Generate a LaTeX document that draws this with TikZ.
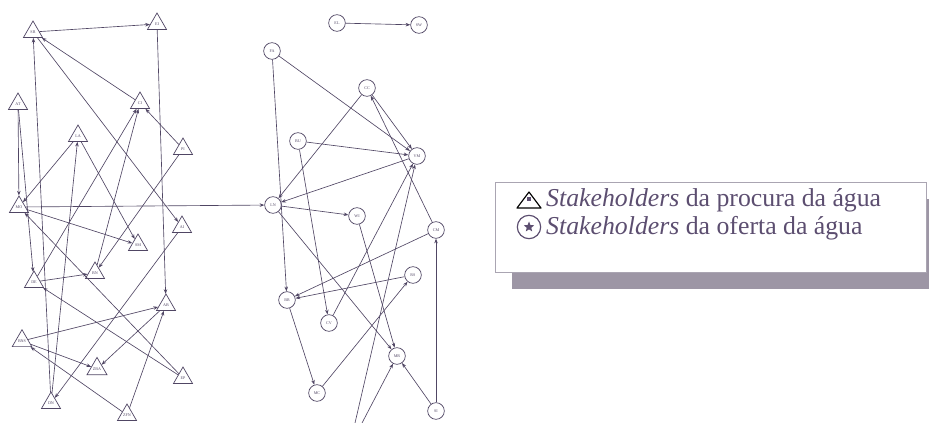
\documentclass[tikz,border=0pt]{standalone}
\usepackage{fontspec}
\setmainfont{Liberation Serif}
\usetikzlibrary{shapes.geometric, arrows.meta, shadows}

\definecolor{ink}{RGB}{80,70,100}
\definecolor{legendtext}{RGB}{92,78,112}
\definecolor{shadowgray}{RGB}{157,150,165}
\definecolor{boxline}{RGB}{170,165,178}

\begin{document}
\begin{tikzpicture}[
  x=0.3mm, y=-0.3mm,
  >={Stealth[length=4pt, width=3pt]},
  demand/.style={
    draw=ink, regular polygon, regular polygon sides=3,
    minimum size=6.6mm, inner sep=0pt, line width=0.6pt,
    font=\fontsize{3.5}{4}\selectfont, text=ink
  },
  supply/.style={
    draw=ink, circle, minimum size=5mm, inner sep=0pt,
    line width=0.6pt, font=\fontsize{3.5}{4}\selectfont, text=ink
  },
  arrow/.style={->, draw=ink, line width=0.55pt},
  legendbox/.style={
    draw=boxline, fill=white, line width=0.8pt,
    minimum width=129.3mm, minimum height=27mm,
    drop shadow={shadow xshift=5.1mm, shadow yshift=-5.1mm,
                 fill=shadowgray, opacity=1}
  },
  legendtext/.style={anchor=west, inner sep=0pt, text=legendtext,
    font=\fontsize{22}{24}\selectfont}
]
\useasboundingbox (0,0) rectangle (929,423);

% --- Demand side (triangles) ---
\node[demand] (sr)  at (33,32)   {SR};
\node[demand] (ei)  at (157,24)  {EI};
\node[demand] (ats) at (18,104)  {AT};
\node[demand] (ci)  at (140,103) {CI};
\node[demand] (la)  at (78,136)  {LA};
\node[demand] (pi)  at (183,149) {PI};
\node[demand] (mo)  at (19,207)  {MO};
\node[demand] (ai)  at (182,227) {AI};
\node[demand] (sm)  at (138,245) {SM};
\node[demand] (bn)  at (95,273)  {BN};
\node[demand] (de)  at (34,282)  {DE};
\node[demand] (ab)  at (166,305) {AB};
\node[demand] (bns) at (22,341)  {BNS};
\node[demand] (zba) at (97,369)  {ZBA};
\node[demand] (ep)  at (183,378) {EP};
\node[demand] (dn)  at (51,403)  {DN};
\node[demand] (zfn) at (127,415) {ZFN};

\draw[arrow] (sr)  -- (ei);
\draw[arrow] (ei)  -- (ab);
\draw[arrow] (ci)  -- (sr);
\draw[arrow] (sr)  -- (ai);
\draw[arrow] (dn)  -- (sr);
\draw[arrow] (ats) -- (mo);
\draw[arrow] (ats) -- (de);
\draw[arrow] (la)  -- (mo);
\draw[arrow] (dn)  -- (la);
\draw[arrow] (la)  -- (sm);
\draw[arrow] (pi)  -- (ci);
\draw[arrow] (de)  -- (ci);
\draw[arrow] (bn)  -- (ci);
\draw[arrow] (pi)  -- (bn);
\draw[arrow] (mo)  -- (sm);
\draw[arrow] (ep)  -- (mo);
\draw[arrow] (ai)  -- (dn);
\draw[arrow] (de)  -- (bn);
\draw[arrow] (ep)  -- (de);
\draw[arrow] (ab)  -- (zba);
\draw[arrow] (bns) -- (zba);
\draw[arrow] (bns) -- (ab);
\draw[arrow] (zfn) -- (bns);
\draw[arrow] (zfn) -- (ab);

% --- Supply side (circles) ---
\node[supply] (el) at (337,23)  {EL};
\node[supply] (sw) at (419,25)  {SW};
\node[supply] (fa) at (272,51)  {FA};
\node[supply] (cc) at (367,88)  {CC};
\node[supply] (bu) at (298,141) {BU};
\node[supply] (vm) at (417,156) {VM};
\node[supply] (ln) at (273,205) {LN};
\node[supply] (wi) at (357,216) {WI};
\node[supply] (cm) at (436,230) {CM};
\node[supply] (rs) at (413,275) {RS};
\node[supply] (br) at (287,300) {BR};
\node[supply] (cv) at (329,323) {CV};
\node[supply] (mr) at (397,356) {MR};
\node[supply] (mc) at (317,393) {MC};
\node[supply] (si) at (436,411) {SI};
% loose ends running off the bottom edge
\coordinate (offa) at (355,423);
\coordinate (offb) at (362,423);

% the one link between both sides
\draw[arrow] (mo) -- (ln);

\draw[arrow] (el)   -- (sw);
\draw[arrow] (fa)   -- (vm);
\draw[arrow] (fa)   -- (br);
\draw[arrow] (cc)   -- (ln);
\draw[arrow] (bu)   -- (vm);
\draw[arrow] (vm)   -- (ln);
\draw[arrow] (bu)   -- (cv);
\draw[arrow] (cc)   -- (vm);
\draw[arrow] (cm)   -- (cc);
\draw[arrow] (ln)   -- (wi);
\draw[arrow] (ln)   -- (mr);
\draw[arrow] (wi)   -- (mr);
\draw[arrow] (cm)   -- (br);
\draw[arrow] (rs)   -- (br);
\draw[arrow] (mc)   -- (rs);
\draw[arrow] (br)   -- (mc);
\draw[arrow] (cv)   -- (vm);
\draw[arrow] (offa) -- (vm);
\draw[arrow] (offb) -- (mr);
\draw[arrow] (si)   -- (cm);
\draw[arrow] (si)   -- (mr);

% --- Legend ---
\node[legendbox] (legend) at (710.5,227) {};
% triangle icon with its small square
\draw[legendtext, line width=1pt, line join=round]
  (517,208) -- (529,192) -- (541,208) -- cycle;
\node[fill=legendtext, minimum size=1.3mm, inner sep=0pt] (trisq) at (529,199) {};
% circle icon with its star
\node[circle, draw=legendtext, line width=1pt, minimum size=7mm,
  inner sep=0pt] (circ) at (529,227) {};
\node[star, star points=5, star point ratio=2.3, fill=legendtext,
  minimum size=3.3mm, inner sep=0pt] (circstar) at (529,227) {};
\node[legendtext] (lgdemand) at (546,200) {\textit{Stakeholders} da procura da água};
\node[legendtext] (lgsupply) at (546,228) {\textit{Stakeholders} da oferta da água};

\end{tikzpicture}
\end{document}
